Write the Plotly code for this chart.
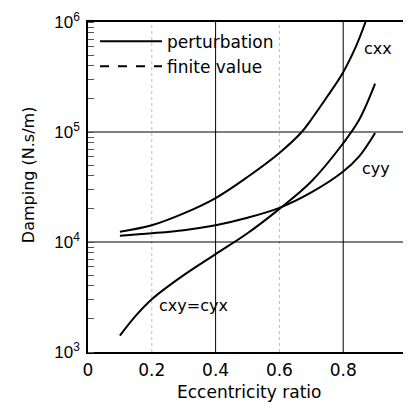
import plotly.graph_objects as go

# Eccentricity ratio values and damping coefficients (N.s/m)
ecc_xx = [0.1, 0.2, 0.3, 0.4, 0.5, 0.6, 0.67, 0.7, 0.75, 0.8, 0.84, 0.87]
c_xx = [1.24e4, 1.42e4, 1.82e4, 2.51e4, 3.9e4, 6.45e4, 1.0e5, 1.3e5, 2.1e5, 3.5e5, 6.0e5, 1.0e6]

ecc_yy = [0.1, 0.2, 0.3, 0.4, 0.5, 0.6, 0.7, 0.8, 0.85, 0.9]
c_yy = [1.14e4, 1.2e4, 1.28e4, 1.42e4, 1.66e4, 2.04e4, 2.82e4, 4.37e4, 6.0e4, 9.8e4]

ecc_xy = [0.1, 0.15, 0.2, 0.3, 0.4, 0.5, 0.6, 0.7, 0.8, 0.85, 0.9]
c_xy = [1.41e3, 2.14e3, 3.02e3, 5.0e3, 7.76e3, 1.2e4, 2.0e4, 3.55e4, 7.9e4, 1.29e5, 2.75e5]

x_ticks = [0, 0.2, 0.4, 0.6, 0.8, 1]
x_tick_text = ["0", "0.2", "0.4", "0.6", "0.8", "1"]
y_ticks = [1e3, 1e4, 1e5, 1e6]
y_tick_text = ["10<sup>3</sup>", "10<sup>4</sup>", "10<sup>5</sup>", "10<sup>6</sup>"]
major_x_grid = [0.4, 0.8]
minor_x_grid = [0.2, 0.6]
major_y_grid = [1e4, 1e5]

FONT = "DejaVu Sans"
LINE = dict(color="black", width=2, shape="spline", smoothing=1.0)

fig = go.Figure()
fig.add_trace(go.Scatter(x=ecc_xx, y=c_xx, mode="lines", line=LINE, name="perturbation"))
fig.add_trace(go.Scatter(x=[None], y=[None], mode="lines",
                         line=dict(color="black", width=2, dash="dash"), name="finite value"))
fig.add_trace(go.Scatter(x=ecc_yy, y=c_yy, mode="lines", line=LINE, showlegend=False))
fig.add_trace(go.Scatter(x=ecc_xy, y=c_xy, mode="lines", line=LINE, showlegend=False))

shapes = []
for gx in major_x_grid:
    shapes.append(dict(type="line", xref="x", yref="paper", x0=gx, x1=gx, y0=0, y1=1,
                       line=dict(color="black", width=1), layer="below"))
for gx in minor_x_grid:
    shapes.append(dict(type="line", xref="x", yref="paper", x0=gx, x1=gx, y0=0, y1=1,
                       line=dict(color="#bbbbbb", width=1, dash="dot"), layer="below"))
for gy in major_y_grid:
    shapes.append(dict(type="line", xref="paper", yref="y", x0=0, x1=1, y0=gy, y1=gy,
                       line=dict(color="black", width=1), layer="below"))

lab = dict(family=FONT, size=16, color="black")
annotations = [
    dict(x=0.91, y=5.76, text="cxx", showarrow=False, font=lab),
    dict(x=0.903, y=4.67, text="cyy", showarrow=False, font=lab),
    dict(x=0.33, y=3.42, text="cxy=cyx", showarrow=False, font=lab),
    dict(xref="paper", yref="paper", x=0.505, y=-0.122, xanchor="center", yanchor="middle",
         text="Eccentricity ratio", showarrow=False, font=dict(family=FONT, size=17, color="black")),
    dict(xref="paper", yref="paper", x=-0.188, y=0.536, xanchor="center", yanchor="middle",
         textangle=-90, text="Damping (N.s/m)", showarrow=False,
         font=dict(family=FONT, size=16, color="black")),
]

# page body has an 8px default margin; plot area is placed to match the window
fig.update_layout(
    template="none",
    width=411, height=395,
    margin=dict(l=80, r=12, t=14, b=51, autoexpand=False),
    paper_bgcolor="white", plot_bgcolor="white",
    font=dict(family=FONT, size=16, color="black"),
    shapes=shapes, annotations=annotations,
    showlegend=True,
    legend=dict(x=0.022, y=0.995, xanchor="left", yanchor="top",
                bgcolor="rgba(0,0,0,0)", font=dict(family=FONT, size=17, color="black"),
                itemwidth=62),
    xaxis=dict(range=[0, 1], tickvals=x_ticks, ticktext=x_tick_text, automargin=False,
               showgrid=False, zeroline=False, showline=True, linecolor="black",
               linewidth=1.5, mirror=True, ticks="outside", ticklen=2,
               ticklabeloverflow="allow",
               tickcolor="rgba(0,0,0,0)", tickfont=dict(family=FONT, size=17)),
    yaxis=dict(type="log", range=[3, 6], tickvals=y_ticks, ticktext=y_tick_text,
               automargin=False,
               showgrid=False, zeroline=False, showline=True, linecolor="black",
               linewidth=1.5, mirror=True, ticks="outside", ticklen=3,
               tickcolor="rgba(0,0,0,0)", tickfont=dict(family="Liberation Sans", size=17),
               minor=dict(ticks="inside", ticklen=6, tickcolor="#555", dtick="D1", showgrid=False)),
)

fig.write_html("out.html")
